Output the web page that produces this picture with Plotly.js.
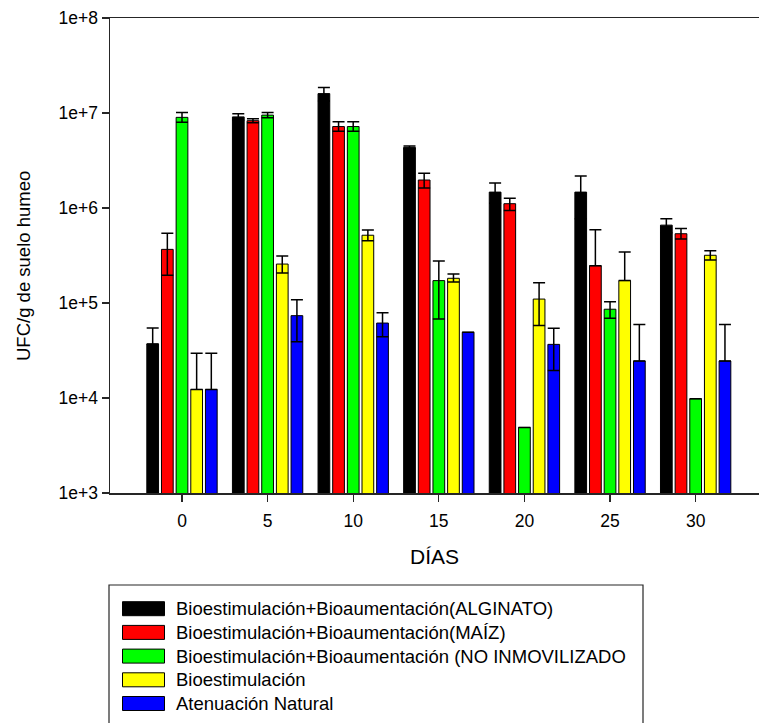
<!DOCTYPE html>
<html>
<head>
<meta charset="utf-8">
<script src="https://cdn.plot.ly/plotly-3.0.1.min.js"></script>
<style>
html,body{margin:0;padding:0;background:#fff;overflow:hidden;}
#chart{width:759px;height:723px;}
</style>
</head>
<body>
<div id="chart"></div>
<script>
// ---- data ----
const days = [0, 5, 10, 15, 20, 25, 30];
const seriesNames = [
  "Bioestimulación+Bioaumentación(ALGINATO)",
  "Bioestimulación+Bioaumentación(MAÍZ)",
  "Bioestimulación+Bioaumentación (NO INMOVILIZADO",
  "Bioestimulación",
  "Atenuación Natural"
];
const seriesColors = ["#000000", "#ff0000", "#00ff00", "#ffff00", "#0000ff"];

const alginato         = [3.7e4, 9.1e6, 1.6e7, 4.35e6, 1.47e6, 1.47e6, 6.6e5];
const alginatoErrPlus  = [1.75e4, 7e5, 2.6e6, 1.5e5, 3.6e5, 7e5, 1.1e5];
const alginatoErrMinus = [0, 7e5, 2.6e6, 1.5e5, 3.5e5, 7e5, 1.1e5];

const maiz         = [3.67e5, 8.3e6, 7.2e6, 1.97e6, 1.11e6, 2.47e5, 5.36e5];
const maizErrPlus  = [1.75e5, 4e5, 9e5, 3.5e5, 1.6e5, 3.45e5, 7.4e4];
const maizErrMinus = [1.71e5, 4e5, 7.7e5, 3.5e5, 1.7e5, 0, 6.4e4];

const noInmov         = [9.0e6, 9.5e6, 7.2e6, 1.72e5, 4.9e3, 8.6e4, 9.8e3];
const noInmovErrPlus  = [1.1e6, 6e5, 9e5, 1.05e5, 0, 1.7e4, 0];
const noInmovErrMinus = [1.0e6, 6e5, 7.7e5, 1.04e5, 0, 1.7e4, 0];

const bioestim         = [1.23e4, 2.57e5, 5.17e5, 1.82e5, 1.1e5, 1.72e5, 3.18e5];
const bioestimErrPlus  = [1.72e4, 5.5e4, 6.8e4, 2e4, 5.3e4, 1.72e5, 3.6e4];
const bioestimErrMinus = [0, 5e4, 6.4e4, 1.6e4, 5.2e4, 0, 3.4e4];

const atenuacion         = [1.23e4, 7.36e4, 6.15e4, 4.92e4, 3.67e4, 2.45e4, 2.45e4];
const atenuacionErrPlus  = [1.72e4, 3.45e4, 1.75e4, 0, 1.75e4, 3.5e4, 3.5e4];
const atenuacionErrMinus = [0, 3.45e4, 1.75e4, 0, 1.72e4, 0, 0];

const yTickVals = [1e3, 1e4, 1e5, 1e6, 1e7, 1e8];
const yTickText = ["1e+3", "1e+4", "1e+5", "1e+6", "1e+7", "1e+8"];
const xTickVals = [0, 5, 10, 15, 20, 25, 30];
const xTickText = ["0", "5", "10", "15", "20", "25", "30"];

const yTitle = "UFC/g de suelo humeo";
const xTitle = "DÍAS";

// ---- build ----
const values = [alginato, maiz, noInmov, bioestim, atenuacion];
const errPlus = [alginatoErrPlus, maizErrPlus, noInmovErrPlus, bioestimErrPlus, atenuacionErrPlus];
const errMinus = [alginatoErrMinus, maizErrMinus, noInmovErrMinus, bioestimErrMinus, atenuacionErrMinus];

const FONT = "Liberation Sans, Arial, sans-serif";
const AXIS = "#262626";

const traces = values.map((v, i) => ({
  type: "bar",
  name: seriesNames[i],
  x: days,
  y: v,
  marker: { color: seriesColors[i], line: { color: "#000", width: 1 } },
  error_y: {
    type: "data", symmetric: false,
    array: errPlus[i], arrayminus: errMinus[i],
    color: "#000", thickness: 1.5, width: 6
  },
  showlegend: false,
  hoverinfo: "x+y+name"
}));

// plot area geometry (px)
const L = 110, T = 18, W = 649, H = 475;
const px = x => (x - L) / W;
const py = y => (T + H - y) / H;

const shapes = [{
  type: "rect", xref: "paper", yref: "paper",
  x0: px(109), x1: px(643), y0: py(735), y1: py(585),
  line: { color: AXIS, width: 1.2 }, fillcolor: "rgba(0,0,0,0)"
}];
const annotations = [{
  xref: "paper", yref: "paper", x: px(23), y: py(266),
  xanchor: "center", yanchor: "middle", showarrow: false, textangle: -90,
  text: yTitle, font: { family: FONT, size: 18.5, color: "#000" }
}];
seriesNames.forEach((n, i) => {
  const yc = 608.7 + i * 23.7;
  shapes.push({
    type: "rect", xref: "paper", yref: "paper",
    x0: px(122.5), x1: px(164.5), y0: py(yc + 7), y1: py(yc - 7),
    fillcolor: seriesColors[i], line: { color: "#000", width: 1 }
  });
  annotations.push({
    xref: "paper", yref: "paper", x: px(174), y: py(yc),
    xanchor: "left", yanchor: "middle", showarrow: false,
    text: n, font: { family: FONT, size: 18.5, color: "#000" }
  });
});

const layout = {
  width: 759, height: 723,
  margin: { l: L, r: 0, t: T, b: 723 - T - H, pad: 0 },
  paper_bgcolor: "#fff", plot_bgcolor: "#fff",
  font: { family: FONT, color: "#000" },
  barmode: "group", bargap: 0.144, bargroupgap: 0.2,
  xaxis: {
    range: [-4.205, 33.70], tickvals: xTickVals, ticktext: xTickText,
    ticks: "outside", ticklen: 7, tickwidth: 1.3, tickcolor: AXIS,
    showline: true, linecolor: AXIS, linewidth: 1.5, mirror: true,
    showgrid: false, zeroline: false, ticklabelstandoff: 4,
    tickfont: { family: FONT, size: 17.5, color: "#000" },
    title: { text: xTitle, font: { family: FONT, size: 21, color: "#000" }, standoff: 20 }
  },
  yaxis: {
    type: "log", range: [3, 8], tickvals: yTickVals, ticktext: yTickText,
    ticks: "outside", ticklen: 7, tickwidth: 1.3, tickcolor: AXIS,
    showline: true, linecolor: AXIS, linewidth: 1.5,
    showgrid: false, zeroline: false,
    tickfont: { family: FONT, size: 17.5, color: "#000" }
  },
  shapes: shapes,
  annotations: annotations,
  showlegend: false
};

Plotly.newPlot("chart", traces, layout, { displayModeBar: false, staticPlot: true });
</script>
</body>
</html>
